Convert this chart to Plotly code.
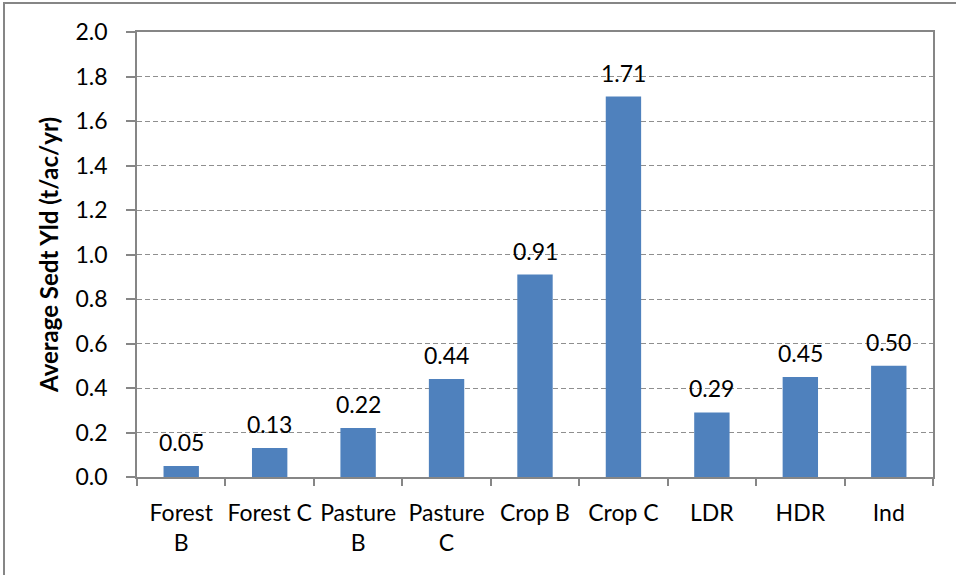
import plotly.graph_objects as go

# Sediment yield by land use / hydrologic soil group
categories = ["Forest<br>B", "Forest C", "Pasture<br>B", "Pasture<br>C",
              "Crop B", "Crop C", "LDR", "HDR", "Ind"]
sediment_yield = [0.05, 0.13, 0.22, 0.44, 0.91, 1.71, 0.29, 0.45, 0.50]
y_ticks = [0.0, 0.2, 0.4, 0.6, 0.8, 1.0, 1.2, 1.4, 1.6, 1.8, 2.0]

W, H = 956, 575
L, R, T, B = 137, 23, 32, 98
FONT = "Lato"
FS = 23
BAR_COLOR = "#4F81BD"
AXIS_COLOR = "#868686"
GRID_COLOR = "#8f8f8f"

fig = go.Figure(
    go.Bar(
        x=categories,
        y=sediment_yield,
        marker=dict(color=BAR_COLOR, line=dict(width=0)),
        hoverinfo="x+y",
    )
)

# value labels above each bar
for cat, val in zip(categories, sediment_yield):
    fig.add_annotation(
        x=cat, y=val, text=f"{val:.2f}", showarrow=False,
        yanchor="bottom", yshift=8,
        font=dict(family=FONT, size=FS, color="#000000"),
    )

# outer chart frame
pw, ph = W - L - R, H - T - B
fig.add_shape(
    type="rect", xref="paper", yref="paper",
    x0=(4 - L) / pw, x1=(W + 10 - L) / pw,
    y0=-(10 + B) / ph, y1=(H - 3 - B) / ph,
    line=dict(color=AXIS_COLOR, width=2), fillcolor="rgba(0,0,0,0)",
    layer="below",
)

fig.update_layout(
    width=W, height=H,
    margin=dict(l=L, r=R, t=T, b=B, autoexpand=False),
    paper_bgcolor="#ffffff", plot_bgcolor="#ffffff",
    bargap=0.6,
    showlegend=False,
    font=dict(family=FONT, size=FS, color="#000000"),
    xaxis=dict(
        type="category",
        tickson="boundaries",
        ticks="outside", ticklen=7, tickwidth=1.5, tickcolor=AXIS_COLOR,
        showline=True, linecolor=AXIS_COLOR, linewidth=1.5, mirror=True,
        showgrid=False,
        tickangle=0,
        ticklabelstandoff=15,
        tickfont=dict(family=FONT, size=FS),
    ),
    yaxis=dict(
        range=[0, 2.0],
        tickvals=y_ticks,
        ticktext=[f"{v:.1f}" for v in y_ticks],
        ticks="outside", ticklen=9, tickwidth=1.5, tickcolor=AXIS_COLOR,
        showline=True, linecolor=AXIS_COLOR, linewidth=1.5, mirror=True,
        showgrid=True, gridcolor=GRID_COLOR, gridwidth=1, griddash="5px,3px",
        zeroline=False,
        ticklabelstandoff=14,
        tickfont=dict(family=FONT, size=FS),
        title=dict(
            text="<b>Average Sedt Yld (t/ac/yr)</b>",
            font=dict(family=FONT, size=24),
            standoff=10,
        ),
    ),
)

fig.write_html("out.html")
